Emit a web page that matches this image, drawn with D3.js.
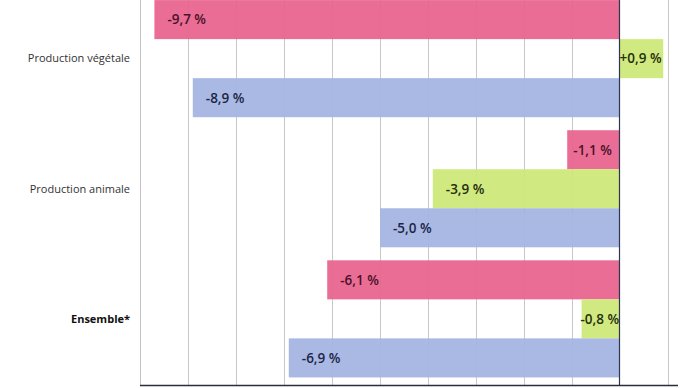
<!DOCTYPE html>
<html>
<head>
<meta charset="utf-8">
<script src="https://cdn.jsdelivr.net/npm/d3@7"></script>
<style>
  body { margin: 0; background: #fff; }
  svg { display: block; }
</style>
</head>
<body>
<div id="chart"></div>
<script>
// categories (top to bottom) and the three series inside each group
var categories = ["Production végétale", "Production animale", "Ensemble*"];
var seriesPink  = [-9.7, -1.1, -6.1];
var seriesGreen = [0.9, -3.9, -0.8];
var seriesBlue  = [-8.9, -5.0, -6.9];
var gridTicks = [-10, -9, -8, -7, -6, -5, -4, -3, -2, -1, 0, 1];

var width = 690, height = 388;

var series = [
    { key: "pink",  values: seriesPink,  fill: "#e9658f", text: "#4a1228" },
    { key: "green", values: seriesGreen, fill: "#cde879", text: "#26300c" },
    { key: "blue",  values: seriesBlue,  fill: "#a4b5e3", text: "#1c2545" }
];

var svg = d3.select("#chart").append("svg")
    .attr("width", width)
    .attr("height", height);

// x scale: 1 % = 48px
var x = d3.scaleLinear()
    .domain([-10, 1])
    .range([140, 668]);

var y = d3.scaleBand()
    .domain(categories)
    .range([-8.5, 386])
    .paddingInner(0.1)
    .paddingOuter(0.066);

var y1 = d3.scaleBand()
    .domain(series.map(function(s) { return s.key; }))
    .range([0, y.bandwidth()]);

// vertical gridlines
svg.append("g")
    .selectAll("line")
    .data(gridTicks.filter(function(t) { return t !== 0; }))
    .enter()
    .append("line")
        .attr("x1", function(d) { return Math.round(x(d)) + 0.5; })
        .attr("x2", function(d) { return Math.round(x(d)) + 0.5; })
        .attr("y1", 0)
        .attr("y2", 386)
        .attr("stroke", function(d) { return d === -10 ? "#c4c4c8" : "#c9c9cc"; })
        .attr("stroke-width", 1);

// bars
var groups = svg.append("g")
    .selectAll("g")
    .data(categories)
    .enter()
    .append("g")
        .attr("transform", function(d) { return "translate(0," + y(d) + ")"; });

var barData = function(cat, i) {
    return series.map(function(s) {
        return { key: s.key, value: s.values[i], fill: s.fill, text: s.text };
    });
};

groups.selectAll("rect")
    .data(barData)
    .enter()
    .append("rect")
        .attr("x", function(d) { return x(Math.min(0, d.value)); })
        .attr("y", function(d) { return y1(d.key); })
        .attr("width", function(d) { return Math.abs(x(d.value) - x(0)); })
        .attr("height", y1.bandwidth())
        .attr("fill", function(d) { return d.fill; })
        .attr("fill-opacity", 0.95);

// value labels
var fmt = function(v) {
    var s = Math.abs(v).toFixed(1).replace(".", ",");
    return (v > 0 ? "+" : "-") + s + " %";
};

groups.selectAll("text")
    .data(barData)
    .enter()
    .append("text")
        .text(function(d) { return fmt(d.value); })
        .attr("y", function(d) { return y1(d.key) + y1.bandwidth() / 2; })
        .attr("dy", "0.36em")
        .attr("fill", function(d) { return d.text; })
        .style("font-family", "'Open Sans', sans-serif")
        .style("font-weight", "600")
        .style("font-size", "13.5px")
        .each(function(d) {
            var el = d3.select(this);
            var w = Math.abs(x(d.value) - x(0));
            var left = x(Math.min(0, d.value));
            if (w > 70) {
                el.attr("x", left + 13).attr("text-anchor", "start");
            } else {
                el.attr("x", left + w / 2 - 1).attr("text-anchor", "middle");
            }
        });

// category labels
svg.append("g")
    .selectAll("text")
    .data(categories)
    .enter()
    .append("text")
        .attr("x", 130)
        .attr("y", function(d) { return y(d) + y.bandwidth() / 2; })
        .attr("dy", "0.35em")
        .attr("text-anchor", "end")
        .attr("fill", function(d) { return d === "Ensemble*" ? "#111" : "#333"; })
        .style("font-family", "'Open Sans', sans-serif")
        .style("font-size", "11px")
        .style("font-weight", function(d) { return d === "Ensemble*" ? "bold" : "normal"; })
        .text(function(d) { return d; });

// zero line
svg.append("line")
    .attr("x1", Math.round(x(0)) - 0.5)
    .attr("x2", Math.round(x(0)) - 0.5)
    .attr("y1", 0)
    .attr("y2", 386)
    .attr("stroke", "#2f3550")
    .attr("stroke-width", 1.2);

// bottom axis line
svg.append("line")
    .attr("x1", x(-10))
    .attr("x2", 678)
    .attr("y1", 385.5)
    .attr("y2", 385.5)
    .attr("stroke", "#2a2e3e")
    .attr("stroke-width", 1.5);
</script>
</body>
</html>
